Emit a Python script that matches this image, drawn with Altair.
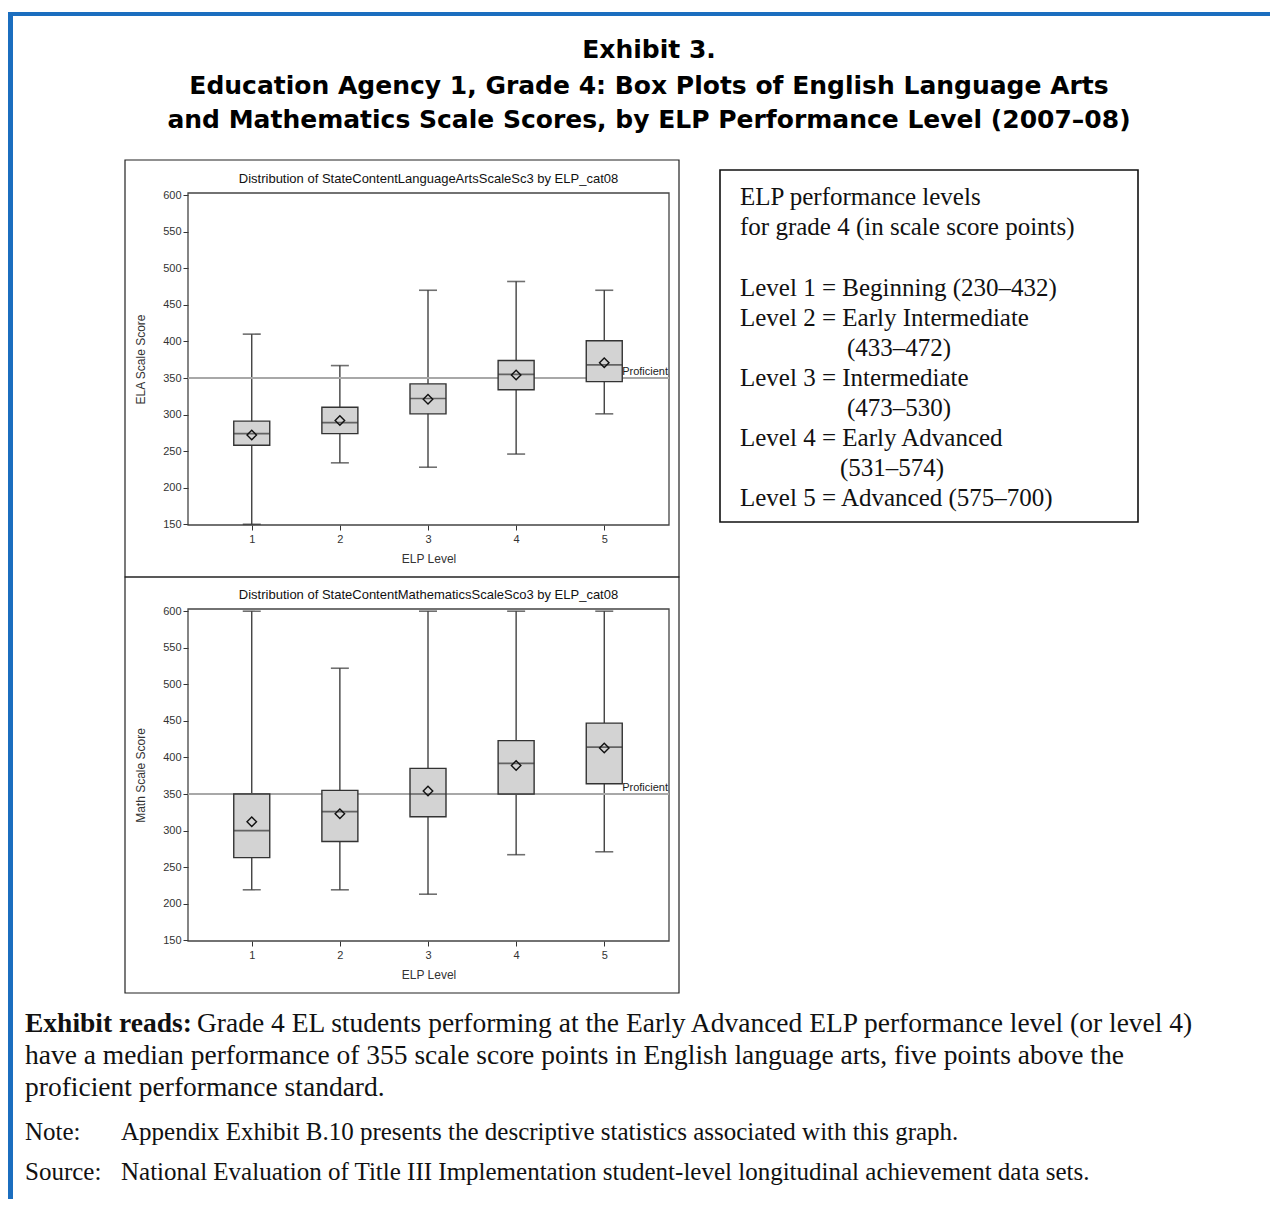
import altair as alt
import pandas as pd

# ---------------- data ----------------
levels = [1, 2, 3, 4, 5]

ela_low = [150, 234, 228, 246, 301]
ela_q1 = [258, 274, 301, 334, 345]
ela_median = [274, 289, 322, 355, 368]
ela_mean = [272, 292, 321, 354, 371]
ela_q3 = [291, 310, 342, 374, 401]
ela_high = [410, 367, 470, 482, 470]

math_low = [219, 219, 213, 267, 271]
math_q1 = [263, 285, 319, 350, 364]
math_median = [300, 326, 350, 392, 414]
math_mean = [312, 323, 354, 389, 413]
math_q3 = [350, 355, 385, 423, 447]
math_high = [600, 522, 600, 600, 600]

proficient = 350
y_ticks = [150, 200, 250, 300, 350, 400, 450, 500, 550, 600]

title_lines = [
    "Exhibit 3.",
    "Education Agency 1, Grade 4: Box Plots of English Language Arts",
    "and Mathematics Scale Scores, by ELP Performance Level (2007\u201308)",
]

legend_lines = [
    "ELP performance levels",
    "for grade 4 (in scale score points)",
    "Level 1 = Beginning (230\u2013432)",
    "Level 2 = Early Intermediate",
    "(433\u2013472)",
    "Level 3 = Intermediate",
    "(473\u2013530)",
    "Level 4 = Early Advanced",
    "(531\u2013574)",
    "Level 5 = Advanced (575\u2013700)",
]

reads_bold = "Exhibit reads:"
reads_lines = [
    "Grade 4 EL students performing at the Early Advanced ELP performance level (or level 4)",
    "have a median performance of 355 scale score points in English language arts, five points above the",
    "proficient performance standard.",
]
note_label, note_text = "Note:", "Appendix Exhibit B.10 presents the descriptive statistics associated with this graph."
source_label, source_text = "Source:", "National Evaluation of Title III Implementation student-level longitudinal achievement data sets."

# ---------------- styling / layout ----------------
SANS = "Liberation Sans"
TITLE_FONT = "DejaVu Sans"
SERIF = "Liberation Serif"
BLUE = "#1b6ebf"
DARK = "#333333"
PW, PH = 481, 332          # one plot frame
GAP = 416                  # offset of the lower plot frame from the upper one
TOTAL_H = GAP + PH
XDOM = [0.3333, 5.678]
YDOM = [149, 603]

one = alt.Data(values=[{"a": 1}])


def rect(x1, x2, y1, y2, **kw):
    return alt.Chart(one).mark_rect(**kw).encode(
        x=alt.value(x1), x2=alt.value(x2), y=alt.value(y1), y2=alt.value(y2)
    )


def text(s, x, y, **kw):
    return alt.Chart(one).mark_text(text=s, **kw).encode(x=alt.value(x), y=alt.value(y))


def boxplot(low, q1, med, mean, q3, high, ytitle, top):
    df = pd.DataFrame({"level": levels, "low": low, "q1": q1, "median": med,
                       "mean": mean, "q3": q3, "high": high})
    base = alt.Chart(df)
    xscale = alt.Scale(domain=XDOM, nice=False, zero=False)
    xenc = alt.X("level:Q", scale=xscale,
                 axis=alt.Axis(values=levels, tickCount=20, format="d", title="ELP Level",
                               titlePadding=9, labelPadding=3, orient="bottom",
                               offset=-(TOTAL_H - (top + PH))))
    ysc = alt.Scale(domain=YDOM, nice=False, zero=False, range=[top + PH, top])
    yaxis = alt.Axis(values=y_ticks, tickCount=40, title=ytitle, titlePadding=15,
                     labelPadding=2, orient="left")

    ref = base.mark_rule(color="#a8a8a8", strokeWidth=1.5).encode(
        y=alt.datum(proficient, type="quantitative"))
    whisk = base.mark_rule(color=DARK, strokeWidth=1.3).encode(
        x=xenc, y=alt.Y("low:Q", scale=ysc, axis=yaxis), y2="high:Q")
    cap_lo = base.mark_tick(orient="horizontal", size=18, thickness=1.6, color=DARK).encode(
        x="level:Q", y="low:Q")
    cap_hi = base.mark_tick(orient="horizontal", size=18, thickness=1.6, color=DARK).encode(
        x="level:Q", y="high:Q")
    box = base.mark_bar(size=36, fill="#d3d3d3", stroke=DARK, strokeWidth=1.4).encode(
        x="level:Q", y="q1:Q", y2="q3:Q")
    med_t = base.mark_tick(orient="horizontal", size=36, thickness=1.7, color=DARK).encode(
        x="level:Q", y="median:Q")
    mean_p = base.mark_point(shape="diamond", size=90, filled=False, color="#111",
                             strokeWidth=1.4, opacity=1).encode(x="level:Q", y="mean:Q")
    ref_lbl = alt.Chart(one).mark_text(text="Proficient", align="right", baseline="bottom",
                                       font=SANS, fontSize=11, color="#222", dy=-1).encode(
        x=alt.value(PW - 1), y=alt.datum(proficient, type="quantitative"))
    return alt.layer(whisk, ref, cap_lo, cap_hi, box, med_t, mean_p, ref_lbl)


# ---- decorations (pixel positions relative to the upper plot frame) ----
deco = [
    rect(-180, 1082, -181, -177, fill=BLUE),           # blue top rule
    rect(-180, -175, -181, 1006, fill=BLUE),           # blue left rule
    # panel borders
    rect(-63, 491, -33, 384, fill="white", fillOpacity=0, stroke="#222", strokeWidth=1.2),
    rect(-63, 491, 384, 800, fill="white", fillOpacity=0, stroke="#222", strokeWidth=1.2),
    # plot frames
    rect(0, PW, 0, PH, fill="white", fillOpacity=0, stroke="#444", strokeWidth=1.3),
    rect(0, PW, GAP, GAP + PH, fill="white", fillOpacity=0, stroke="#444", strokeWidth=1.3),
    text("Distribution of StateContentLanguageArtsScaleSc3 by ELP_cat08", PW / 2, -14,
         font=SANS, fontSize=13, color="#111", align="center", baseline="middle"),
    text("Distribution of StateContentMathematicsScaleSco3 by ELP_cat08", PW / 2, GAP - 14,
         font=SANS, fontSize=13, color="#111", align="center", baseline="middle"),
]
for s, y in zip(title_lines, [-143, -107, -73]):
    deco.append(text(s, 461, y, font=TITLE_FONT, fontSize=25, fontWeight="bold",
                     align="center", baseline="middle", color="#000"))
deco.append(rect(532, 950, -23, 329, fill="white", fillOpacity=0,
                 stroke="#111", strokeWidth=1.6))
leg_pos = [(552, 4), (552, 34), (552, 95), (552, 125), (659, 155), (552, 185),
           (659, 215), (552, 245), (652, 275), (552, 305)]
for s, (x, y) in zip(legend_lines, leg_pos):
    deco.append(text(s, x, y, font=SERIF, fontSize=25, align="left",
                     baseline="middle", color="#111"))

FS_READ, FS_NOTE = 27.5, 25
deco += [
    text(reads_bold, -163, 831, font=SERIF, fontSize=FS_READ, fontWeight="bold",
         align="left", baseline="middle", color="#111"),
    text(reads_lines[0], 9, 831, font=SERIF, fontSize=FS_READ,
         align="left", baseline="middle", color="#111"),
    text(reads_lines[1], -163, 863, font=SERIF, fontSize=FS_READ,
         align="left", baseline="middle", color="#111"),
    text(reads_lines[2], -163, 895, font=SERIF, fontSize=FS_READ,
         align="left", baseline="middle", color="#111"),
    text(note_label, -163, 939, font=SERIF, fontSize=FS_NOTE,
         align="left", baseline="middle", color="#111"),
    text(note_text, -67, 939, font=SERIF, fontSize=FS_NOTE,
         align="left", baseline="middle", color="#111"),
    text(source_label, -163, 979, font=SERIF, fontSize=FS_NOTE,
         align="left", baseline="middle", color="#111"),
    text(source_text, -67, 979, font=SERIF, fontSize=FS_NOTE,
         align="left", baseline="middle", color="#111"),
]

ela = boxplot(ela_low, ela_q1, ela_median, ela_mean, ela_q3, ela_high,
              "ELA Scale Score", 0)
math = boxplot(math_low, math_q1, math_median, math_mean, math_q3, math_high,
               "Math Scale Score", GAP)

chart = alt.layer(alt.layer(*deco), ela, math).resolve_scale(
    y="independent"
).resolve_axis(
    x="independent", y="independent"
).properties(
    width=PW, height=TOTAL_H,
    padding={"left": 0, "top": 4, "right": 0, "bottom": 0},
    background="white",
).configure_view(stroke=None).configure_axis(
    labelFont=SANS, labelFontSize=11, labelColor=DARK, tickColor=DARK, tickSize=5,
    domain=False, grid=False, titleFont=SANS, titleFontSize=12,
    titleFontWeight="normal", titleColor=DARK, labelOverlap=False,
)

chart.save("out.html", embed_options={"renderer": "svg", "actions": False})
